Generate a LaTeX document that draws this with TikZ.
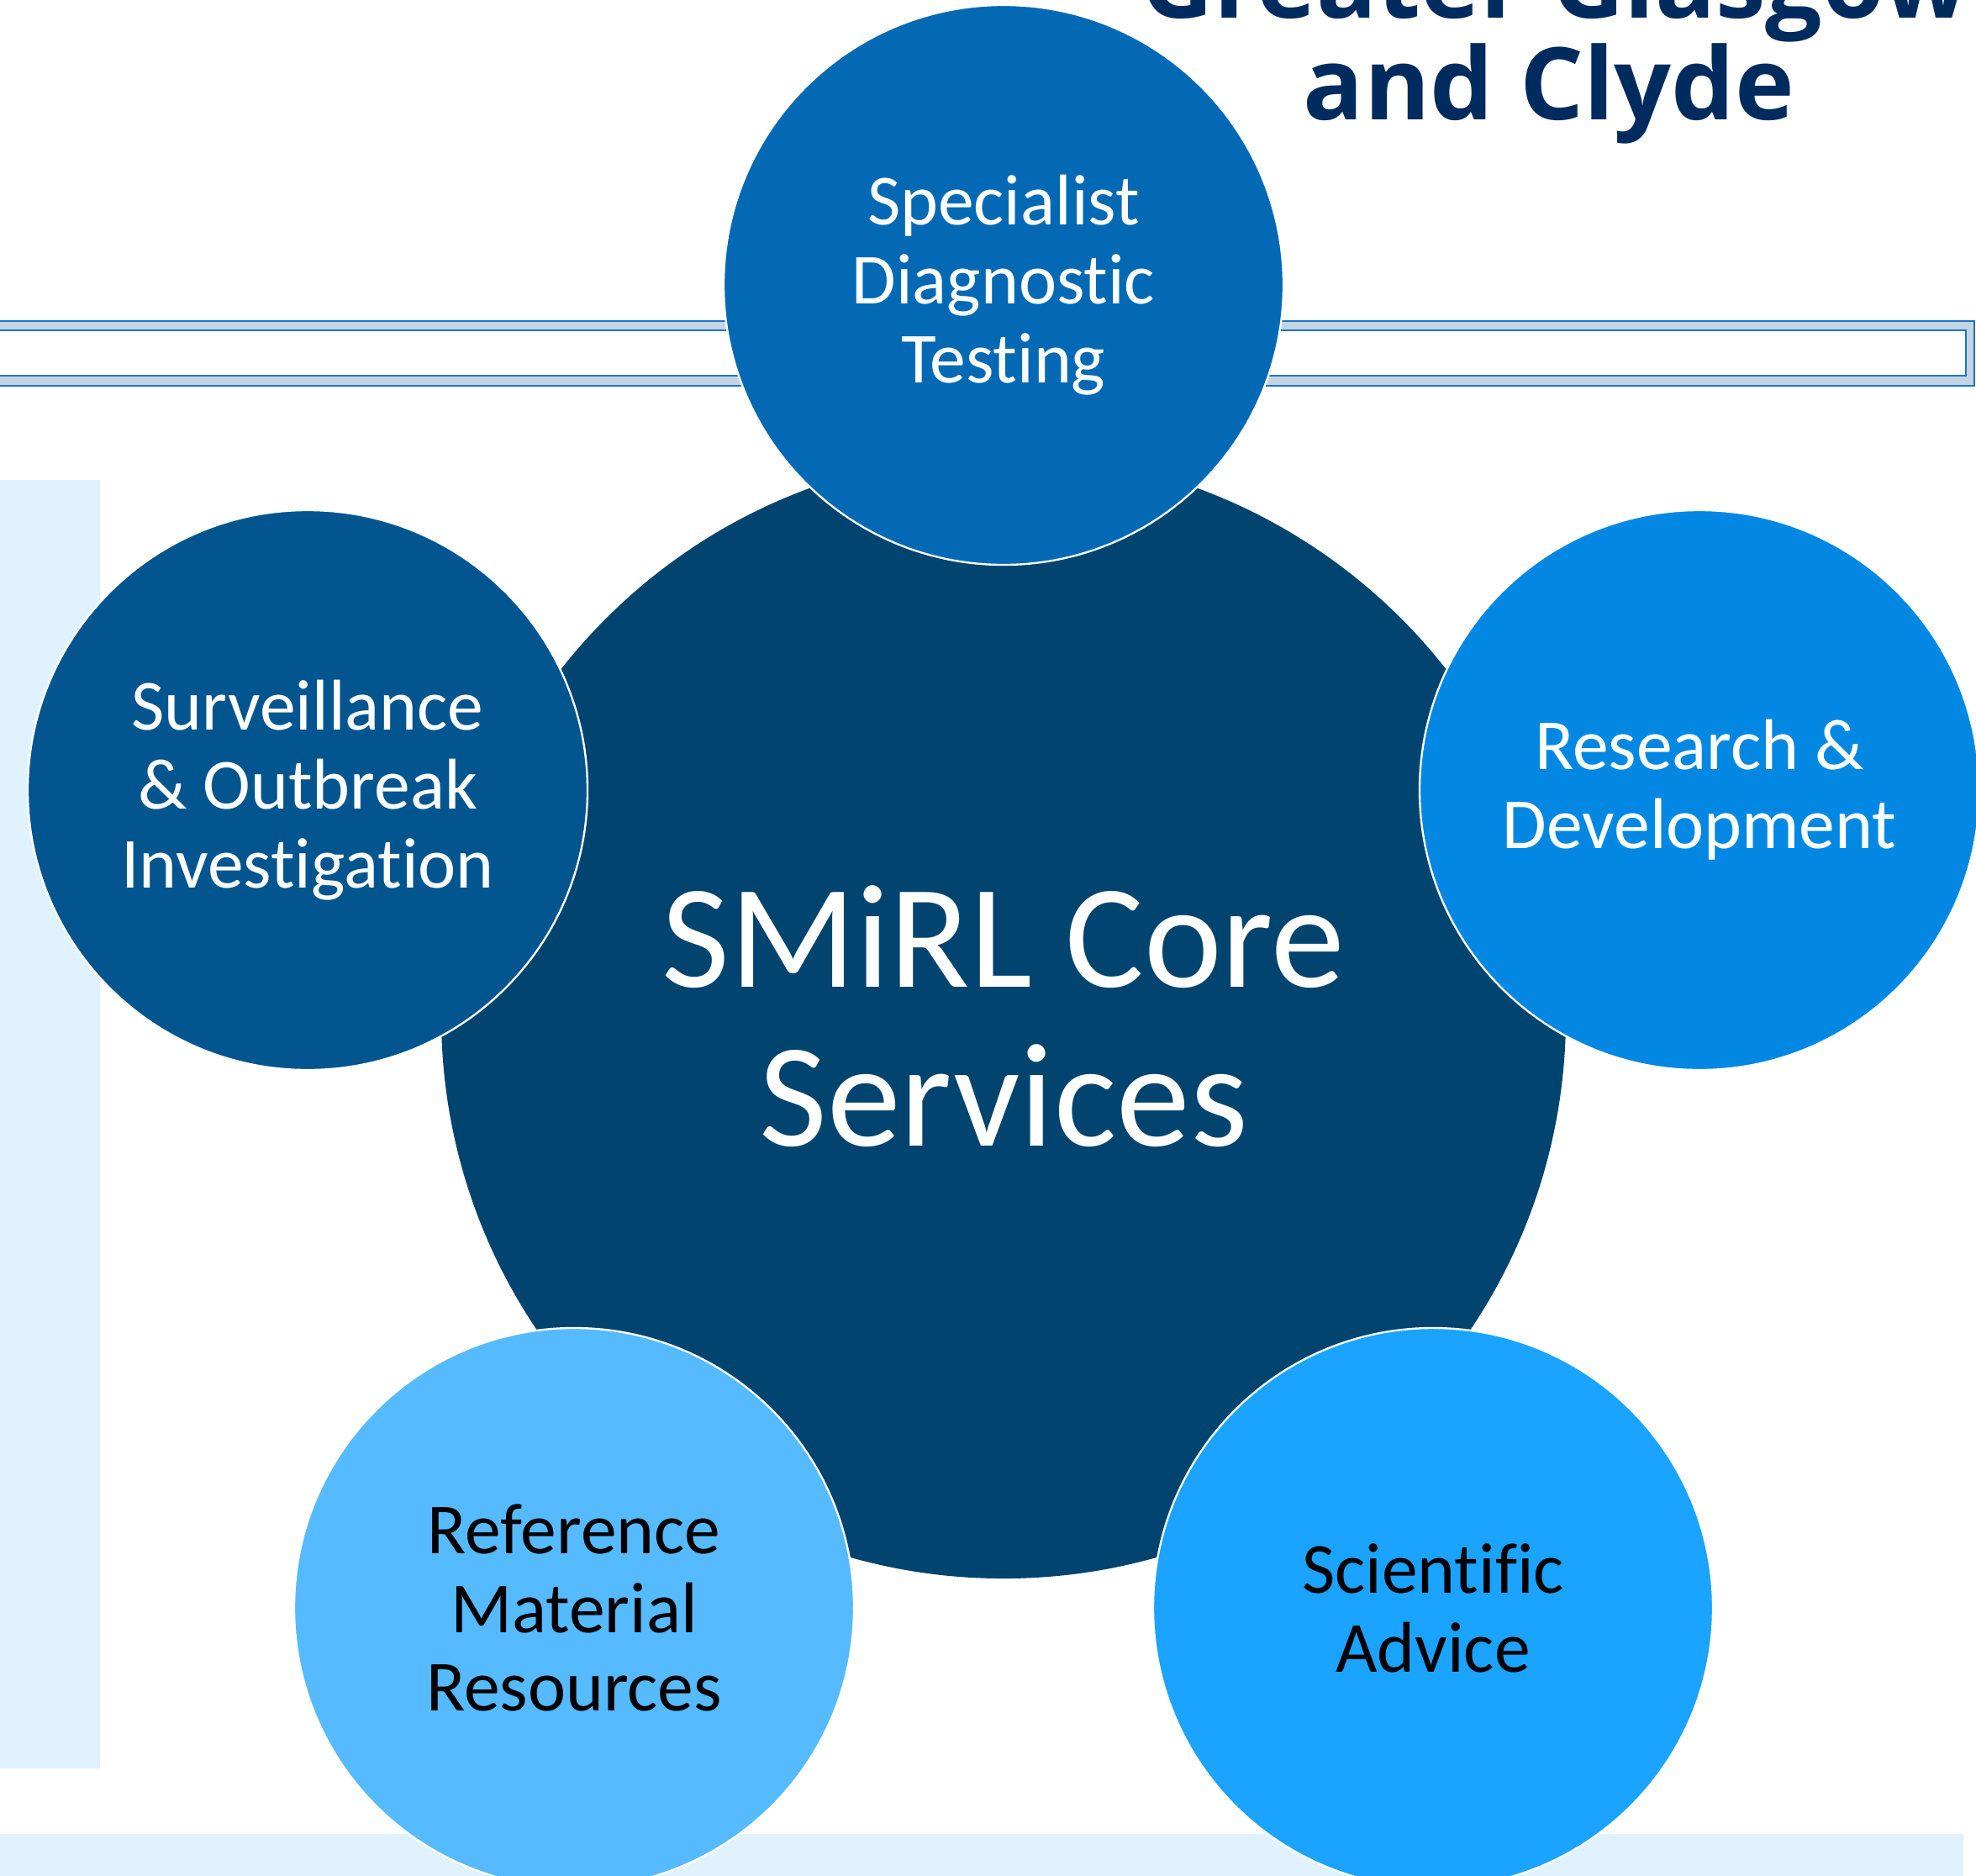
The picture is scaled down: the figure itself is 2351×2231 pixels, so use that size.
\documentclass[tikz,border=0pt]{standalone}
\usepackage{fontspec}
\setmainfont{Carlito}[Ligatures=NoCommon]
\newfontfamily\logofont{Open Sans}
\definecolor{coreblue}{HTML}{00446F}
\definecolor{topblue}{HTML}{0469B4}
\definecolor{leftblue}{HTML}{02558F}
\definecolor{rightblue}{HTML}{0288E2}
\definecolor{advblue}{HTML}{1AA3FF}
\definecolor{refblue}{HTML}{56BAFF}
\definecolor{logonavy}{HTML}{002B5F}
\definecolor{paleblue}{HTML}{E0F2FE}
\definecolor{barline}{HTML}{1A75C8}
\definecolor{bargrey}{HTML}{C3D4E4}
\begin{document}
\begin{tikzpicture}[x=0.03cm,y=-0.03cm,
  sat/.style={circle,draw=white,line width=2pt,minimum size=19.98cm,inner sep=0pt,align=center,text=white,font=\fontsize{73}{80}\selectfont},
  core/.style={circle,fill=coreblue,minimum size=40.14cm,inner sep=0pt,align=center,text=white,font=\fontsize{150}{161}\selectfont},
  logo/.style={anchor=base,text=logonavy,font=\logofont\bfseries\fontsize{102}{103}\selectfont}]
\useasboundingbox (0,0) rectangle (2351,2231);
\clip (0,0) rectangle (2351,2231);
\fill[paleblue] (0,2182) rectangle (2336,2240);
\fill[paleblue] (0,571) rectangle (119,2104);
\draw[barline,line width=1.5pt,fill=bargrey] (-10,382) rectangle (2349,459);
\draw[barline,line width=1.5pt,fill=white] (-10,393) rectangle (2339,447);

\node (G1) at (1850,21) [logo]{Greater Glasgow};
\node (G2) at (1843,142) [logo]{and Clyde};

\node (C) at (1194,1209) [core]{SMiRL Core\\Services};

\node (T) at (1194,339) [sat,fill=topblue]{Specialist\\Diagnostic\\Testing};
\node (L) at (366,940) [sat,fill=leftblue]{Surveillance\\\& Outbreak\\Investigation};
\node (R) at (2022,940) [sat,fill=rightblue]{Research \&\\Development};
\node (BL) at (683,1913) [sat,fill=refblue,text=black]{Reference\\Material\\Resources};
\node (BR) at (1705,1913) [sat,fill=advblue,text=black]{Scientific\\Advice};
\end{tikzpicture}
\end{document}
